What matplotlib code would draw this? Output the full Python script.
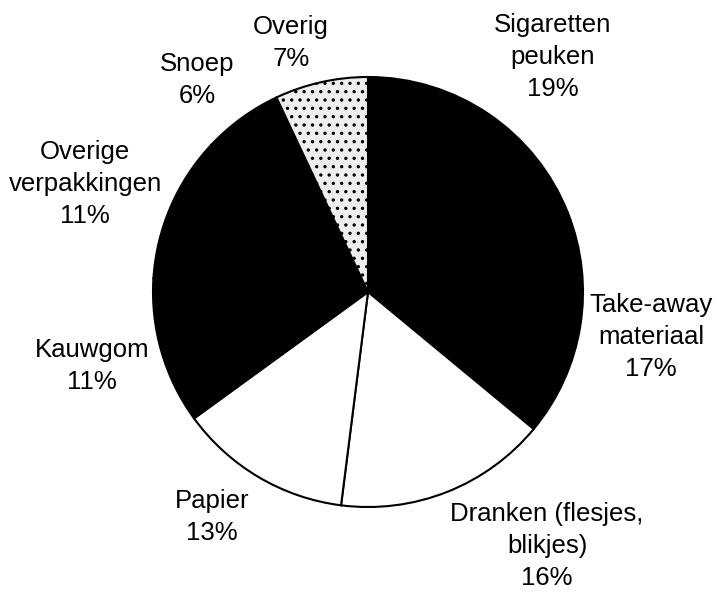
import matplotlib
matplotlib.use("Agg")
import matplotlib.pyplot as plt

plt.rcParams['font.family'] = ['Liberation Sans', 'DejaVu Sans']
plt.rcParams['hatch.linewidth'] = 1.2

# slices, clockwise from 12 o'clock
names = ['Sigaretten\npeuken', 'Take-away\nmateriaal', 'Dranken (flesjes,\nblikjes)',
         'Papier', 'Kauwgom', 'Overige\nverpakkingen', 'Snoep', 'Overig']
pct = [19, 17, 16, 13, 11, 11, 6, 7]
colors = ['black', 'black', 'white', 'white', 'black', 'black', 'black', '#eeeeee']

# label centres (pie radius = 1)
lab_x = [0.860, 1.316, 0.833, -0.726, -1.284, -1.316, -0.795, -0.358]
lab_y = [1.093, -0.209, -1.181, -1.047, -0.344, 0.502, 0.986, 1.158]

fig = plt.figure(figsize=(7.17, 5.92), dpi=100)
ax = fig.add_axes([0, 0, 1, 1])

wedges, _ = ax.pie(pct, colors=colors, startangle=90, counterclock=False,
                   wedgeprops=dict(edgecolor='black', linewidth=1.5))
wedges[-1].set_hatch('..')

for nm, p, x, y in zip(names, pct, lab_x, lab_y):
    ax.text(x, y, f'{nm}\n{p}%', ha='center', va='center', fontsize=18.5,
            linespacing=1.4)

ax.set_xlim(-368 / 215, 349 / 215)
ax.set_ylim(-300 / 215, 292 / 215)
ax.set_aspect('auto')
ax.axis('off')

plt.savefig('out.png')
